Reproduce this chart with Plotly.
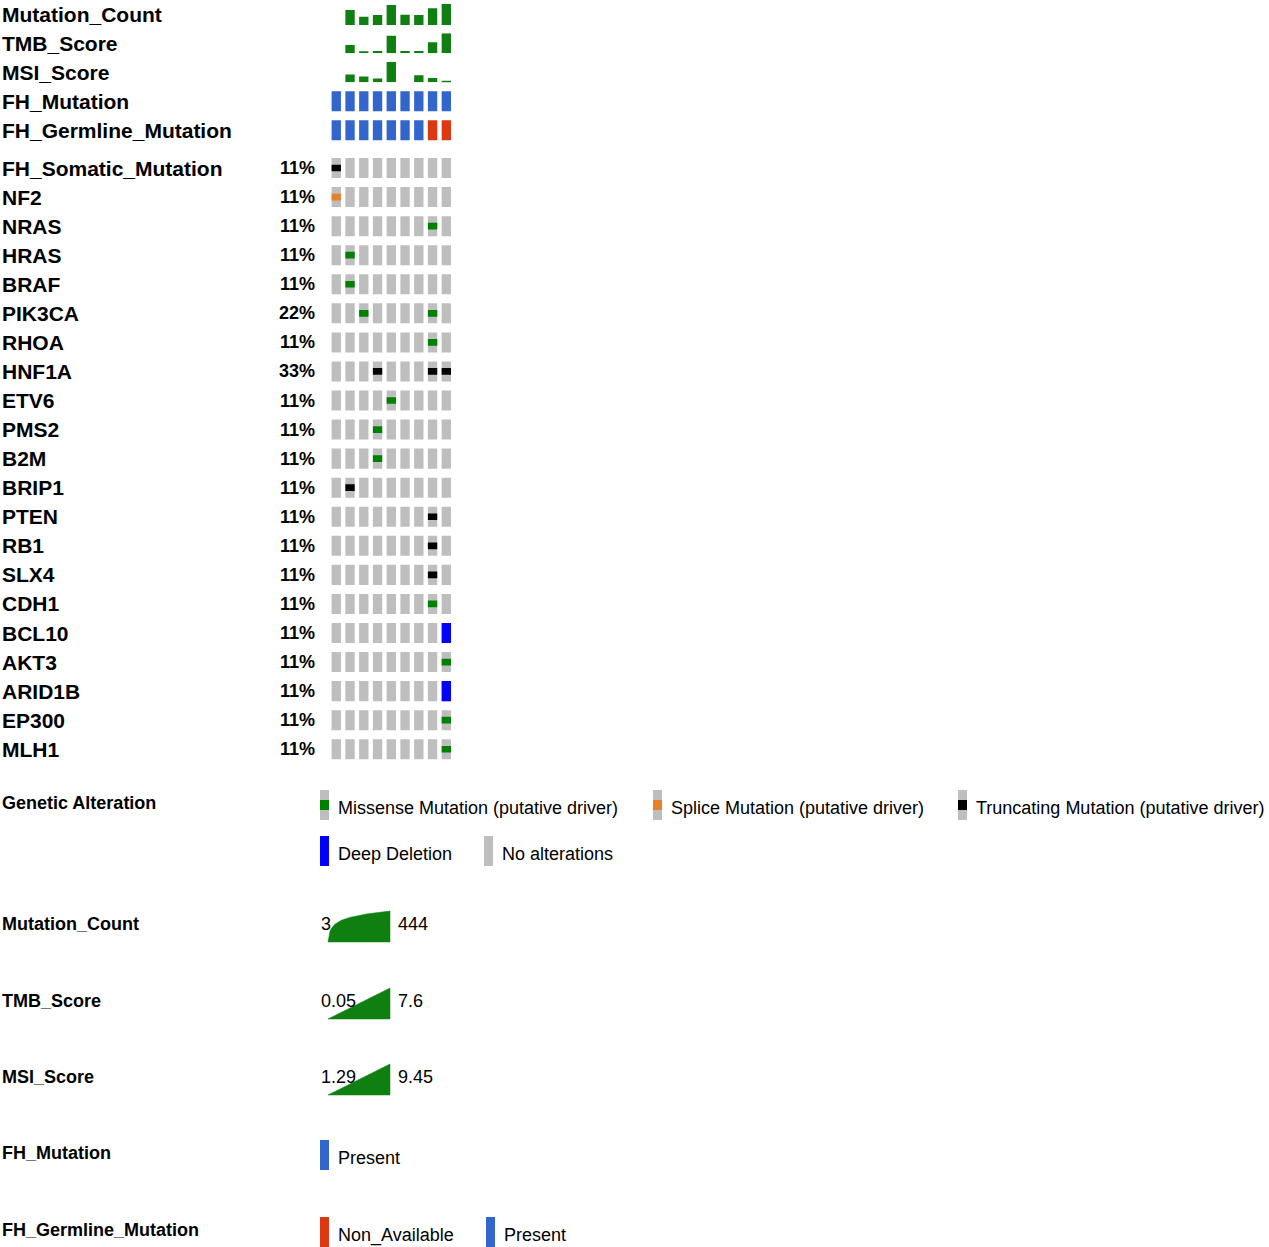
import math
import plotly.graph_objects as go

# ---- data -------------------------------------------------------------
n_samples = 9
mutation_count = [3, 104, 22, 32, 350, 35, 32, 159, 444]
tmb_score = [0.05, 3.2, 0.55, 0.95, 6.7, 0.95, 0.95, 4.2, 7.6]
msi_score = [1.29, 4.4, 3.6, 2.8, 9.45, None, 4.1, 3.0, 1.95]
fh_mutation = ["Present"] * 9
fh_germline = ["Present"] * 7 + ["Non_Available"] * 2

genes = ["FH_Somatic_Mutation", "NF2", "NRAS", "HRAS", "BRAF", "PIK3CA", "RHOA",
         "HNF1A", "ETV6", "PMS2", "B2M", "BRIP1", "PTEN", "RB1", "SLX4", "CDH1",
         "BCL10", "AKT3", "ARID1B", "EP300", "MLH1"]
# M = missense, T = truncating, S = splice, D = deep deletion, . = none
alterations = [
    "T........",
    "S........",
    ".......M.",
    ".M.......",
    ".M.......",
    "..M....M.",
    ".......M.",
    "...T...TT",
    "....M....",
    "...M.....",
    "...M.....",
    ".T.......",
    ".......T.",
    ".......T.",
    ".......T.",
    ".......M.",
    "........D",
    "........M",
    "........D",
    "........M",
    "........M",
]

clinical_tracks = ["Mutation_Count", "TMB_Score", "MSI_Score", "FH_Mutation", "FH_Germline_Mutation"]
alt_names = {"M": "Missense Mutation (putative driver)",
             "S": "Splice Mutation (putative driver)",
             "T": "Truncating Mutation (putative driver)",
             "D": "Deep Deletion"}

# ---- style ------------------------------------------------------------
W, H = 1269, 1247
FONT = "Helvetica, Liberation Sans, Arial, sans-serif"
GRAY = "#bebebe"
GREEN = "#008000"
BAR_GREEN = "#0e7f10"
alt_colors = {"M": GREEN, "S": "#e5802b", "T": "#000000", "D": "#0000ff"}
fh_colors = {"Present": "#3366cc", "Non_Available": "#dc3912"}


def fx(p):
    return p / W


def fy(p):
    return 1 - p / H


cols = list(range(n_samples))
cell_w = 0.68
cell_h = 0.69

fig = go.Figure()

# gray background cells
gx, gb = [], []
for r in range(len(genes)):
    for c in cols:
        gx.append(c)
        gb.append(r - cell_h / 2)
fig.add_trace(go.Bar(x=gx, y=[cell_h] * len(gx), base=gb, width=cell_w,
                     marker=dict(color=GRAY, line_width=0), xaxis="x", yaxis="y",
                     hoverinfo="skip"))

# alterations
for code, color in alt_colors.items():
    xs, bs = [], []
    for r, row in enumerate(alterations):
        for c, a in enumerate(row):
            if a == code:
                xs.append(c)
                bs.append(r)
    h = cell_h if code == "D" else cell_h / 3
    fig.add_trace(go.Bar(x=xs, y=[h] * len(xs), base=[b - h / 2 for b in bs], width=cell_w,
                         marker=dict(color=color, line_width=0), name=alt_names[code],
                         xaxis="x", yaxis="y"))

# numeric clinical tracks
num_tracks = [(mutation_count, "y2"), (tmb_score, "y3"), (msi_score, "y4")]
for vals, ax in num_tracks:
    lo = min(v for v in vals if v is not None)
    xs = [c for c, v in zip(cols, vals) if v is not None]
    ys = [v - lo for v in vals if v is not None]
    fig.add_trace(go.Bar(x=xs, y=ys, base=[lo] * len(xs), width=cell_w,
                         marker=dict(color=BAR_GREEN, line_width=0),
                         xaxis="x", yaxis=ax))

# categorical clinical tracks
for r, vals in enumerate([fh_mutation, fh_germline]):
    fig.add_trace(go.Bar(x=cols, y=[cell_h] * n_samples, base=[r - cell_h / 2] * n_samples,
                         width=cell_w, marker=dict(color=[fh_colors[v] for v in vals], line_width=0),
                         xaxis="x", yaxis="y5"))

annotations = []
label_font = dict(family=FONT, size=21, color="black", weight="bold")
for r, g in enumerate(genes):
    annotations.append(dict(text=g, x=0, xref="paper", xanchor="left", y=r, yref="y",
                            yanchor="middle", showarrow=False, font=label_font))
    pct = round(100 * sum(a != "." for a in alterations[r]) / n_samples)
    annotations.append(dict(text=f"{pct}%", x=fx(317), xref="paper", xanchor="right", y=r,
                            yref="y", yanchor="middle", showarrow=False,
                            font=dict(family=FONT, size=18, color="black", weight="bold")))
for name, ax in zip(clinical_tracks[:3], ["y2", "y3", "y4"]):
    annotations.append(dict(text=name, x=0, xref="paper", xanchor="left", y=0.5,
                            yref=ax + " domain", yanchor="middle", showarrow=False, font=label_font))
for r, name in enumerate(clinical_tracks[3:]):
    annotations.append(dict(text=name, x=0, xref="paper", xanchor="left", y=r, yref="y5",
                            yanchor="middle", showarrow=False, font=label_font))

# ---- legends (pixel coordinate axis) -----------------------------------
title_font = dict(family=FONT, size=18, color="black", weight="bold")
item_font = dict(family=FONT, size=18, color="black")
shapes = []


def glyph(x, top, code=None, color=GRAY):
    shapes.append(dict(type="rect", xref="x2", yref="y6", x0=x, x1=x + 9, y0=top, y1=top + 30,
                       fillcolor=color, line_width=0, layer="above"))
    if code in ("M", "S", "T"):
        shapes.append(dict(type="rect", xref="x2", yref="y6", x0=x, x1=x + 9, y0=top + 10,
                           y1=top + 20, fillcolor=alt_colors[code], line_width=0, layer="above"))


def ptext(text, x, y, font, anchor="left"):
    annotations.append(dict(text=text, x=x, y=y, xref="x2", yref="y6", xanchor=anchor,
                            yanchor="middle", showarrow=False, font=font))


ptext("Genetic Alteration", 0, 803, title_font)
ga_items = [("M", 320, 790), ("S", 653, 790), ("T", 958, 790), ("D", 320, 836), (None, 484, 836)]
for code, gx0, top in ga_items:
    if code == "D":
        glyph(gx0, top, code, alt_colors["D"])
    else:
        glyph(gx0, top, code)
    ptext(alt_names.get(code, "No alterations"), gx0 + 16, top + 18, item_font)

num_legend = [("Mutation_Count", mutation_count, True, 942),
              ("TMB_Score", tmb_score, False, 1019),
              ("MSI_Score", msi_score, False, 1095)]
for name, vals, logscale, bottom in num_legend:
    vv = [v for v in vals if v is not None]
    lo, hi = min(vv), max(vv)
    ptext(name, 0, bottom - 18, title_font)
    n = 60
    px, py = [], []
    for i in range(n + 1):
        v = lo + (hi - lo) * i / n
        frac = math.log(v / lo) / math.log(hi / lo) if logscale else (v - lo) / (hi - lo)
        px.append(328 + 62 * i / n)
        py.append(bottom - 31 * frac)
    px += [390, 328]
    py += [bottom, bottom]
    fig.add_trace(go.Scatter(x=px, y=py, fill="toself", fillcolor=BAR_GREEN, mode="lines",
                             line=dict(color=BAR_GREEN, width=0.5), xaxis="x2", yaxis="y6",
                             hoverinfo="skip"))
    ptext(f"{lo:g}", 319, bottom - 18, item_font)
    ptext(f"{hi:g}", 396, bottom - 18, item_font)

cat_legend = [("FH_Mutation", fh_mutation, 1140, [320]),
              ("FH_Germline_Mutation", fh_germline, 1217, [320, 486])]
for name, vals, top, xs in cat_legend:
    ptext(name, 0, top + 13, title_font)
    cats = sorted(set(vals))
    for cat, gx0 in zip(cats, xs):
        glyph(gx0, top, color=fh_colors[cat])
        ptext(cat, gx0 + 16, top + 18, item_font)

hidden = dict(visible=False, showgrid=False, zeroline=False, fixedrange=True)
fig.update_layout(
    width=W, height=H, margin=dict(l=0, r=0, t=0, b=0),
    paper_bgcolor="white", plot_bgcolor="rgba(0,0,0,0)", showlegend=False,
    barmode="overlay", font=dict(family=FONT),
    xaxis=dict(hidden, domain=[fx(329.4), fx(453.2)], range=[-0.5, 8.5], anchor="y"),
    yaxis=dict(hidden, domain=[fy(763.8), fy(153.5)], range=[20.5, -0.5], anchor="x"),
    yaxis2=dict(hidden, type="log", domain=[fy(25), fy(4)],
                range=[math.log10(3), math.log10(444)], anchor="x"),
    yaxis3=dict(hidden, domain=[fy(53.3), fy(33.3)], range=[0.05, 7.6], anchor="x"),
    yaxis4=dict(hidden, domain=[fy(82.3), fy(62)], range=[1.29, 9.45], anchor="x"),
    yaxis5=dict(hidden, domain=[fy(144.8), fy(86.8)], range=[1.5, -0.5], anchor="x"),
    xaxis2=dict(hidden, domain=[0, 1], range=[0, W], anchor="y6"),
    yaxis6=dict(hidden, domain=[0, 1], range=[H, 0], anchor="x2"),
    annotations=annotations, shapes=shapes,
)

fig.write_html("out.html", config={"displayModeBar": False},
               post_script="document.body.style.margin='0';")
